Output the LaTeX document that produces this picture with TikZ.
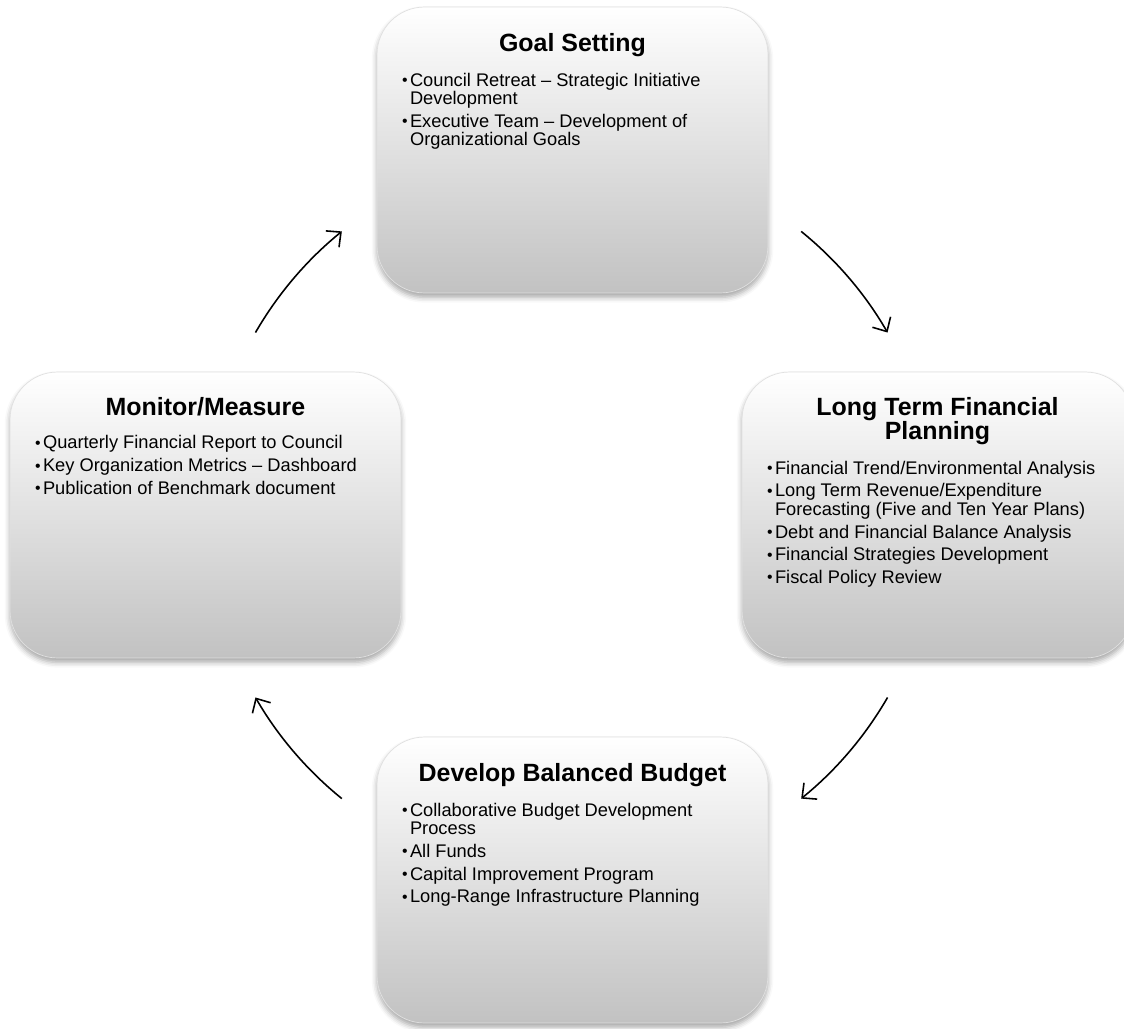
\documentclass[tikz,border=0pt]{standalone}
\usepackage{fontspec}
\setmainfont{Liberation Sans}
\usetikzlibrary{calc,arrows.meta,shadows.blur}
\def\bul#1{\par\hangindent=0.16cm \hangafter=1 \makebox[0.16cm][l]{\raisebox{0.3pt}{\fontsize{9}{9}\selectfont\textbullet}}#1}
\newcommand\stagetext[2]{\parbox[t]{6.82cm}{\centering\fontsize{14.2}{13.4}\selectfont\bfseries #1\par
  \vspace{6pt}\raggedright\normalfont\fontsize{10.4}{10.5}\selectfont\parskip=2.4pt #2}}

\begin{document}
\begin{tikzpicture}[x=0.02cm,y=-0.02cm,
    stage/.style={rounded corners=0.95cm, minimum width=7.82cm, minimum height=5.72cm,
      draw=black!12, top color=white, bottom color=black!24,
      blur shadow={shadow xshift=0pt, shadow yshift=-2.5pt, shadow blur radius=3pt, shadow opacity=35}},
    stagetxt/.style={anchor=base, inner sep=0pt},
    cycarrow/.style={line width=0.9pt, -{Straight Barb[length=2.2mm,width=4.2mm]}}]
	%%%%% START %%%%%
	\useasboundingbox (0,0) rectangle (1124,1028);
	
	\node[stage] (goal) at (572.5,150) {};
	\node[stage] (ltfp) at (937.5,515) {};
	\node[stage] (budget) at (572.5,880) {};
	\node[stage] (mon) at (205.5,515) {};
	
	\node[stagetxt] (goaltxt) at ([yshift=-0.89cm]goal.north) {\stagetext{Goal Setting}{%
		\bul{Council Retreat -- Strategic Initiative\newline Development}%
		\bul{Executive Team -- Development of\newline Organizational Goals}}};
	\node[stagetxt] (ltfptxt) at ([yshift=-0.88cm]ltfp.north) {\stagetext{Long Term Financial\\Planning}{%
		\bul{Financial Trend/Environmental Analysis}%
		\bul{Long Term Revenue/Expenditure\newline Forecasting (Five and Ten Year Plans)}%
		\bul{Debt and Financial Balance Analysis}%
		\bul{Financial Strategies Development}%
		\bul{Fiscal Policy Review}}};
	\node[stagetxt] (budgettxt) at ([yshift=-0.89cm]budget.north) {\stagetext{Develop Balanced Budget}{%
		\bul{Collaborative Budget Development\newline Process}%
		\bul{All Funds}%
		\bul{Capital Improvement Program}%
		\bul{Long-Range Infrastructure Planning}}};
	\node[stagetxt] (montxt) at ([yshift=-0.88cm]mon.north) {\stagetext{Monitor/Measure}{%
		\bul{Quarterly Financial Report to Council}%
		\bul{Key Organization Metrics -- Dashboard}%
		\bul{Publication of Benchmark document}}};
	
	\coordinate (hub) at ($(mon.center)!0.5!(ltfp.center)$);
	\foreach \a/\b in {150/129, 51/30, -30/-51, -129/-150}
		\draw[cycarrow] ($(hub)+(\a:7.3cm)$) arc[start angle=\a, end angle=\b, radius=7.3cm];
	
	%%%%% END %%%%%
\end{tikzpicture}
\end{document}
